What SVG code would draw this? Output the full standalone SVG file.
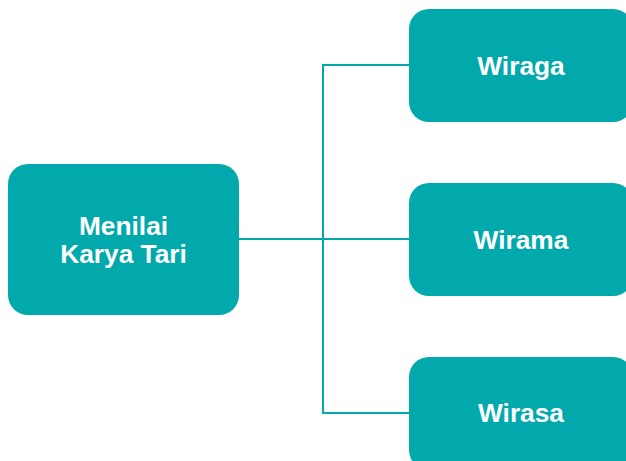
<svg xmlns="http://www.w3.org/2000/svg" width="626" height="461" viewBox="0 0 626 461">
<style>
.box{fill:#02A9AC;}
.t{font-family:"Liberation Sans",Arial,sans-serif;font-weight:bold;font-size:26.3px;fill:#FFFFFF;text-anchor:middle;}
.c{fill:none;stroke:#02A9AC;stroke-width:2;}
</style>
<rect width="626" height="461" fill="#FFFFFF"/>
<g id="connectors">
<path class="c" d="M239 239 H409"/>
<path class="c" d="M409 65 H323 V413 H409"/>
</g>
<g id="node-menilai">
<rect class="box" x="8" y="164" width="231" height="151" rx="20"/>
<text class="t" x="123.5" y="235">Menilai</text>
<text class="t" x="123.5" y="263">Karya Tari</text>
</g>
<g id="node-wiraga">
<rect class="box" x="409" y="9" width="224" height="113" rx="20"/>
<text class="t" x="521" y="75">Wiraga</text>
</g>
<g id="node-wirama">
<rect class="box" x="409" y="183" width="224" height="113" rx="20"/>
<text class="t" x="521" y="249">Wirama</text>
</g>
<g id="node-wirasa">
<rect class="box" x="409" y="357" width="224" height="113" rx="20"/>
<text class="t" x="521" y="422">Wirasa</text>
</g>
</svg>
